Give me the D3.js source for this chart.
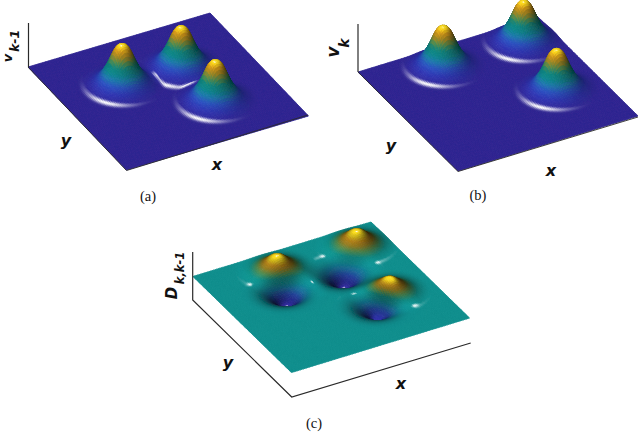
<!DOCTYPE html>
<html><head><meta charset="utf-8">
<script src="https://cdn.jsdelivr.net/npm/d3@7"></script>
<style>html,body{margin:0;padding:0;background:#fff}svg{display:block}</style></head>
<body><div id="c"></div>
<script>
// Peak centres (fractions of the x and y axis)
const prevX = [0.33, 0.656, 0.663];
const prevY = [0.347, 0.344, 0.678];
const currX = [0.385, 0.835, 0.767];
const currY = [0.16, 0.155, 0.606];
// Height of one bump against distance from its centre, read from the silhouettes
const bumpProfile = [1, 1, 0.965, 0.86, 0.71, 0.56, 0.43, 0.32, 0.23, 0.16, 0.105, 0.065, 0.036, 0.016, 0.005, 0, 0];
const bumpRadius = 0.215;
const colourStops = ["#2f2590","#2c33a8","#2a50bc","#1f7cb0","#0c8c92","#128f88","#5a9a58","#b09428","#dc9e1c","#f6d81e"];
const captions = ["(a)", "(b)", "(c)"];
const W = 640, H = 433, N = 120;

const profile = d3.interpolateBasis(bumpProfile);
const rToT = d3.scaleLinear().domain([0, bumpRadius]).range([0, 1]).clamp(true);
const bump = (x, y, cx, cy) => profile(rToT(Math.hypot(x - cx, y - cy)));
const sumBumps = (x, y, xs, ys) => d3.sum(xs, (cx, i) => bump(x, y, cx, ys[i]));
const vPrev = (x, y) => sumBumps(x, y, prevX, prevY);
const vCurr = (x, y) => sumBumps(x, y, currX, currY);
const diff = (x, y) => vCurr(x, y) - vPrev(x, y);
const colour = d3.scaleLinear().domain(d3.range(colourStops.length).map(i => i / (colourStops.length - 1)))
  .range(colourStops).interpolate(d3.interpolateRgb).clamp(true);

const unit = v => { const m = Math.hypot(...v); return v.map(d => d / m); };
const panels = [
 {f: vPrev, L:[28,67], F:[126.5,170], B:[210,13], zPx:40, cDom:[0,0.5,1], slope:0.2, amb:0.35, hl:[-0.15,0.105,1], shine:120, lamp:[-0.5,0.15,1]},
 {f: vCurr, L:[358,72], F:[458,171], B:[538,17], zPx:40, cDom:[0,0.5,1], slope:0.2, amb:0.35, hl:[-0.15,0.105,1], shine:120, lamp:[-0.5,0.15,1]},
 {f: diff, L:[193,276.5], F:[291.5,372.5], B:[371,222], zPx:15, cDom:[-1.05,0,0.85], slope:0.2, amb:0.2, hl:[-0.07,0.13,1], shine:170, lamp:[-0.36,0.14,1]}
];

const svg = d3.select("#c").append("svg").attr("width", W).attr("height", H).attr("viewBox", `0 0 ${W} ${H}`);
const defs = svg.append("defs");
defs.append("filter").attr("id","soft").attr("x","-5%").attr("y","-5%").attr("width","110%").attr("height","110%")
  .append("feGaussianBlur").attr("stdDeviation",0.5);

panels.forEach(p => {
  const ex = [p.B[0]-p.L[0], p.B[1]-p.L[1]], ey = [p.F[0]-p.L[0], p.F[1]-p.L[1]];
  const zS = d3.scaleLinear().domain([0,1]).range([0,p.zPx]);
  const cS = d3.scaleLinear().domain(p.cDom).range([0,0.5,1]);
  const proj = (x,y,z) => [p.L[0]+ex[0]*x+ey[0]*y, p.L[1]+ex[1]*x+ey[1]*y-zS(z)];
  const g = d3.range(N+1).map(i => d3.range(N+1).map(j => p.f(i/N, j/N)));
  const cells = [];
  const Hlf = unit(p.hl), Lgt = unit(p.lamp);
  const floorLobe=Math.pow(Hlf[2],p.shine);
  for (let i=0;i<N;i++) for (let j=0;j<N;j++) {
    const x=(i+.5)/N, y=(j+.5)/N;
    const h=(g[i][j]+g[i+1][j]+g[i][j+1]+g[i+1][j+1])/4;
    const dx=(g[i+1][j]+g[i+1][j+1]-g[i][j]-g[i][j+1])/2*N;
    const dy=(g[i][j+1]+g[i+1][j+1]-g[i][j]-g[i+1][j])/2*N;
    const n=unit([-dx*p.slope,-dy*p.slope,1]);
    const dif=Math.max(0,n[0]*Lgt[0]+n[1]*Lgt[1]+n[2]*Lgt[2])/Lgt[2];
    const nh=n[0]*Hlf[0]+n[1]*Hlf[1]+n[2]*Hlf[2];
    const s=Math.min(1,Math.max(0,Math.pow(Math.max(0,nh),p.shine)-floorLobe)/(1-floorLobe));
    const base=d3.rgb(colour(cS(h)));
    const shade=Math.min(1.1,p.amb+(1-p.amb)*dif);
    const c=d3.rgb(base.r*shade*(1-s)+255*s, base.g*shade*(1-s)+255*s, base.b*shade*(1-s)+255*s);
    const pts=[proj(i/N,j/N,g[i][j]),proj((i+1)/N,j/N,g[i+1][j]),proj((i+1)/N,(j+1)/N,g[i+1][j+1]),proj(i/N,(j+1)/N,g[i][j+1])];
    cells.push({pts,c:c.formatHex(),d:proj(x,y,0)[1]});
  }
  cells.sort((a,b)=>a.d-b.d);
  const line=d3.line();
  svg.append("g").attr("filter","url(#soft)").selectAll("path").data(cells).join("path")
    .attr("d",d=>line(d.pts)+"Z").attr("fill",d=>d.c).attr("stroke",d=>d.c).attr("stroke-width",0.8);
});

const ink="#2a2a2a";
const axLine=(pts,w)=>svg.append("path").attr("d",d3.line()(pts)).attr("fill","none").attr("stroke",ink).attr("stroke-width",w);
axLine([[28.5,23],[28.5,67]],1.2);
axLine([[28,67],[126.5,170.5],[308,115]],0.9);
axLine([[358,24],[358,72]],1.2);
axLine([[358,72],[458,171.5],[638,117]],0.9);
axLine([[192.7,252],[192.7,300],[291.7,397],[470.7,343]],1.2);

const bold=(x,y,t,size,rot)=>svg.append("text").attr("transform",`translate(${x},${y})${rot?` rotate(${rot})`:""}`)
  .attr("font-family","DejaVu Sans").attr("font-weight","bold").attr("font-style","italic").attr("font-size",size)
  .attr("fill","#111").attr("text-anchor","middle").attr("dominant-baseline","middle").text(t);
bold(66,141,"y",16); bold(217,165,"x",16);
bold(391,146,"y",16); bold(551,171,"x",16);
bold(228,363,"y",16); bold(401,384,"x",16);
bold(8,58,"v",13,-90); bold(15,41,"k-1",12.5,-90);
bold(334,52,"v",17,-90); bold(345,43,"k",14,-90);
bold(172,293,"D",15,-90); bold(180,268,"k,k-1",11.5,-90);
[[148,198],[478,197],[314,425]].forEach((q,i)=>svg.append("text").attr("x",q[0]).attr("y",q[1]).attr("text-anchor","middle")
  .attr("dominant-baseline","middle").attr("font-family","Liberation Serif").attr("font-size",14.5).attr("fill","#111").text(captions[i]));
</script></body></html>
